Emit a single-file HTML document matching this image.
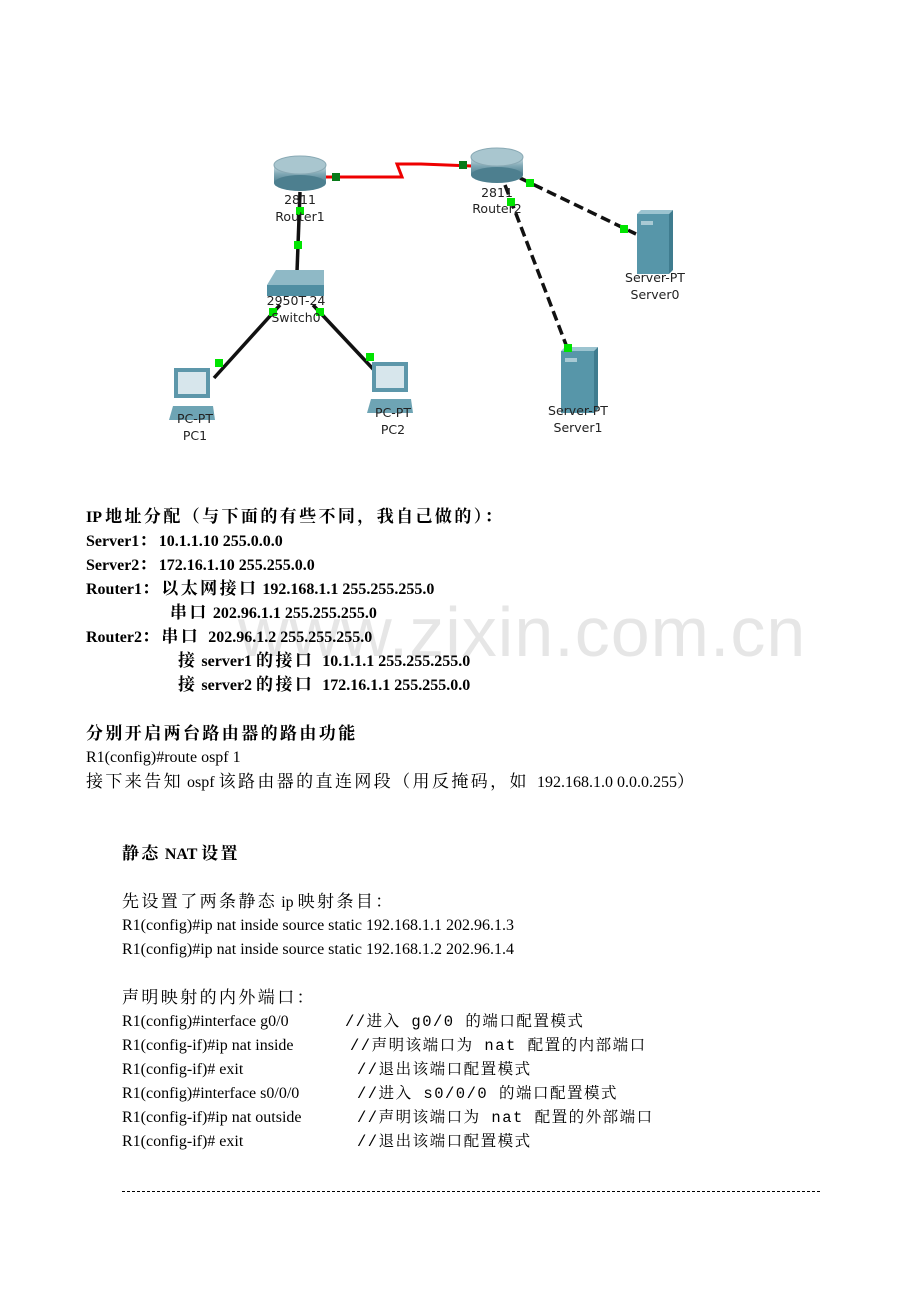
<!DOCTYPE html>
<html><head><meta charset="utf-8"><style>
html,body{margin:0;padding:0;background:#fff;}
body{width:920px;height:1302px;position:relative;overflow:hidden;font-family:"Liberation Serif","Noto Serif CJK SC",serif;color:#000;}
.l{position:absolute;font-size:16px;line-height:20px;white-space:pre;}
.b{font-weight:bold;}
.k{font-size:17px;letter-spacing:2.4px;}
.c{font-family:"Liberation Mono","Noto Serif CJK SC",monospace;font-size:15.5px;letter-spacing:1.5px;}
.wm{position:absolute;left:238px;top:592px;font-family:"Liberation Sans",sans-serif;font-size:70px;color:#e6e6e6;letter-spacing:1px;white-space:pre;}
svg text{font-family:"DejaVu Sans","Liberation Sans",sans-serif;font-size:12.5px;fill:#222;text-anchor:middle;}
</style></head><body>
<div class="wm">www.zixin.com.cn</div>
<svg width="920" height="460" style="position:absolute;left:0;top:0">
<defs>
<linearGradient id="rg" x1="0" y1="0" x2="0" y2="1"><stop offset="0" stop-color="#cfe0e6"/><stop offset="0.5" stop-color="#7fa7b4"/><stop offset="1" stop-color="#4d7f8f"/></linearGradient>
</defs>
<polyline points="326,177 377,177 402,177 397,164 421,164 472,166" fill="none" stroke="#e00" stroke-width="3"/>
<line x1="300" y1="192" x2="297" y2="272" stroke="#111" stroke-width="3.5"/>
<line x1="280" y1="305" x2="214" y2="378" stroke="#111" stroke-width="3.5"/>
<line x1="313" y1="305" x2="374" y2="370" stroke="#111" stroke-width="3.5"/>
<line x1="505" y1="185" x2="568" y2="350" stroke="#111" stroke-width="3.5" stroke-dasharray="10,5"/>
<line x1="520" y1="178" x2="636" y2="234" stroke="#111" stroke-width="3.5" stroke-dasharray="10,5"/>
<rect x="274" y="165" width="52" height="18" fill="url(#rg)"/>
<ellipse cx="300" cy="183" rx="26" ry="8" fill="#4d7f8f"/>
<ellipse cx="300" cy="165" rx="26" ry="9" fill="#a9c6cf" stroke="#8aaab5"/>
<rect x="471" y="157" width="52" height="18" fill="url(#rg)"/>
<ellipse cx="497" cy="175" rx="26" ry="8" fill="#4d7f8f"/>
<ellipse cx="497" cy="157" rx="26" ry="9" fill="#a9c6cf" stroke="#8aaab5"/>
<polygon points="267,285 276,270 324,270 324,285" fill="#8fb9c6"/>
<polygon points="267,285 324,285 324,296 267,296" fill="#4f8ea2"/>
<rect x="174" y="368" width="36" height="30" fill="#5d97aa"/><rect x="178" y="372" width="28" height="22" fill="#d7e6ec"/>
<polygon points="169,420 173,406 213,406 215,420" fill="#6ea4b4"/>
<rect x="372" y="362" width="36" height="30" fill="#5d97aa"/><rect x="376" y="366" width="28" height="22" fill="#d7e6ec"/>
<polygon points="367,413 371,399 411,399 413,413" fill="#6ea4b4"/>
<rect x="637" y="214" width="32" height="60" fill="#5796a9"/><polygon points="637,214 641,210 673,210 669,214" fill="#9cc4d0"/><polygon points="669,214 673,210 673,270 669,274" fill="#3f7c8f"/><rect x="641" y="221" width="12" height="4" fill="#a9cad4"/>
<rect x="561" y="351" width="33" height="62" fill="#5796a9"/><polygon points="561,351 565,347 598,347 594,351" fill="#9cc4d0"/><polygon points="594,351 598,347 598,409 594,413" fill="#3f7c8f"/><rect x="565" y="358" width="12" height="4" fill="#a9cad4"/>
<g fill="#00e400">
<rect x="296" y="207" width="8" height="8"/><rect x="294" y="241" width="8" height="8"/>
<rect x="269" y="308" width="8" height="8"/><rect x="316" y="308" width="8" height="8"/>
<rect x="215" y="359" width="8" height="8"/><rect x="366" y="353" width="8" height="8"/>
<rect x="507" y="198" width="8" height="8"/><rect x="526" y="179" width="8" height="8"/>
<rect x="620" y="225" width="8" height="8"/><rect x="564" y="344" width="8" height="8"/>
</g>
<g fill="#0a7a1a"><rect x="332" y="173" width="8" height="8"/><rect x="459" y="161" width="8" height="8"/></g>
<text x="300" y="204">2811</text><text x="300" y="221">Router1</text>
<text x="497" y="197">2811</text><text x="497" y="213">Router2</text>
<text x="296" y="305">2950T-24</text><text x="296" y="322">Switch0</text>
<text x="195" y="423">PC-PT</text><text x="195" y="440">PC1</text>
<text x="393" y="417">PC-PT</text><text x="393" y="434">PC2</text>
<text x="655" y="282">Server-PT</text><text x="655" y="299">Server0</text>
<text x="578" y="415">Server-PT</text><text x="578" y="432">Server1</text>
</svg>

<div class="l b" style="left:86px;top:507px">IP <span class="k">地址分配（与下面的有些不同，我自己做的）：</span></div>
<div class="l b" style="left:86px;top:531px">Server1<span class="k">：</span>10.1.1.10 255.0.0.0</div>
<div class="l b" style="left:86px;top:555px">Server2<span class="k">：</span>172.16.1.10 255.255.0.0</div>
<div class="l b" style="left:86px;top:579px">Router1<span class="k">：以太网接口</span> 192.168.1.1 255.255.255.0</div>
<div class="l b" style="left:170px;top:603px"><span class="k">串口</span> 202.96.1.1 255.255.255.0</div>
<div class="l b" style="left:86px;top:627px">Router2<span class="k">：串口</span>&nbsp; 202.96.1.2 255.255.255.0</div>
<div class="l b" style="left:178px;top:651px"><span class="k">接</span> server1 <span class="k">的接口</span>&nbsp; 10.1.1.1 255.255.255.0</div>
<div class="l b" style="left:178px;top:675px"><span class="k">接</span> server2 <span class="k">的接口</span>&nbsp; 172.16.1.1 255.255.0.0</div>

<div class="l b" style="left:86px;top:724px"><span class="k">分别开启两台路由器的路由功能</span></div>
<div class="l" style="left:86px;top:748px">R1(config)#route ospf 1</div>
<div class="l" style="left:86px;top:772px"><span class="k">接下来告知</span> ospf <span class="k">该路由器的直连网段（用反掩码，如</span>&nbsp; 192.168.1.0 0.0.0.255<span class="k">）</span></div>

<div class="l b" style="left:122px;top:844px"><span class="k">静态</span> NAT <span class="k">设置</span></div>
<div class="l" style="left:122px;top:892px"><span class="k">先设置了两条静态</span> ip <span class="k">映射条目：</span></div>
<div class="l" style="left:122px;top:916px">R1(config)#ip nat inside source static 192.168.1.1 202.96.1.3</div>
<div class="l" style="left:122px;top:940px">R1(config)#ip nat inside source static 192.168.1.2 202.96.1.4</div>
<div class="l" style="left:122px;top:988px"><span class="k">声明映射的内外端口：</span></div>
<div class="l" style="left:122px;top:1012px">R1(config)#interface g0/0</div><div class="l c" style="left:345px;top:1012px">//进入 g0/0 的端口配置模式</div>
<div class="l" style="left:122px;top:1036px">R1(config-if)#ip nat inside</div><div class="l c" style="left:350px;top:1036px">//声明该端口为 nat 配置的内部端口</div>
<div class="l" style="left:122px;top:1060px">R1(config-if)# exit</div><div class="l c" style="left:357px;top:1060px">//退出该端口配置模式</div>
<div class="l" style="left:122px;top:1084px">R1(config)#interface s0/0/0</div><div class="l c" style="left:357px;top:1084px">//进入 s0/0/0 的端口配置模式</div>
<div class="l" style="left:122px;top:1108px">R1(config-if)#ip nat outside</div><div class="l c" style="left:357px;top:1108px">//声明该端口为 nat 配置的外部端口</div>
<div class="l" style="left:122px;top:1132px">R1(config-if)# exit</div><div class="l c" style="left:357px;top:1132px">//退出该端口配置模式</div>
<div style="position:absolute;left:122px;top:1191px;width:698px;border-top:1px dashed #000"></div>
</body></html>
